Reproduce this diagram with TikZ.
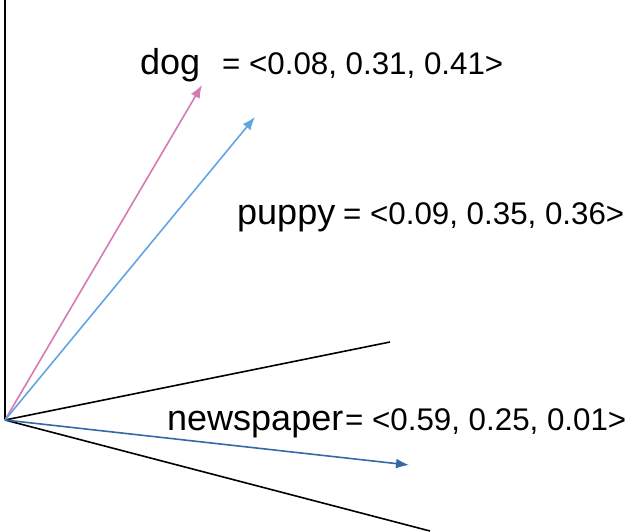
\documentclass[tikz,border=0pt]{standalone}
\usepackage{fontspec}
\setmainfont{Liberation Sans}
\usetikzlibrary{arrows.meta}
\definecolor{dogpink}{RGB}{214,122,178}
\definecolor{puppyblue}{RGB}{98,165,228}
\definecolor{newsblue}{RGB}{52,104,168}

\begin{document}
\begin{tikzpicture}[x=1pt, y=-1pt, >={Latex[length=13pt,width=10pt]},
    axisline/.style={line width=1.6pt, black},
    vecline/.style={->, line width=1.6pt},
    wordlabel/.style={anchor=base west, inner sep=0pt, font=\fontsize{36}{36}\selectfont},
    numlabel/.style={anchor=base west, inner sep=0pt, font=\fontsize{31.3}{31.3}\selectfont}]
  \useasboundingbox (0,0) rectangle (635,531);

  % 1. Axes (origin at left, three black rays)
  \coordinate (O) at (5,420);
  \coordinate (AxisTop) at (5,0);
  \coordinate (AxisUpper) at (390,342);
  \coordinate (AxisLower) at (430,531);
  \draw[axisline] (O) -- (AxisTop);
  \draw[axisline] (O) -- (AxisUpper);
  \draw[axisline] (O) -- (AxisLower);

  % 2. Word vectors
  \coordinate (DogTip) at (202,85);
  \coordinate (PuppyTip) at (255,117);
  \coordinate (NewsTip) at (409,465);
  \draw[vecline, dogpink] (O) -- (DogTip);
  \draw[vecline, puppyblue] (O) -- (PuppyTip);
  \draw[vecline, newsblue] (O) -- (NewsTip);

  % 3. Labels
  \node[wordlabel] (dogword) at (140,74) {dog};
  \node[numlabel] (dogvec) at (222,74) {= <0.08, 0.31, 0.41>};
  \node[wordlabel] (puppyword) at (237,224) {puppy};
  \node[numlabel] (puppyvec) at (343,224) {= <0.09, 0.35, 0.36>};
  \node[wordlabel] (newsword) at (167,430) {newspaper};
  \node[numlabel] (newsvec) at (345,430) {= <0.59, 0.25, 0.01>};
\end{tikzpicture}
\end{document}
